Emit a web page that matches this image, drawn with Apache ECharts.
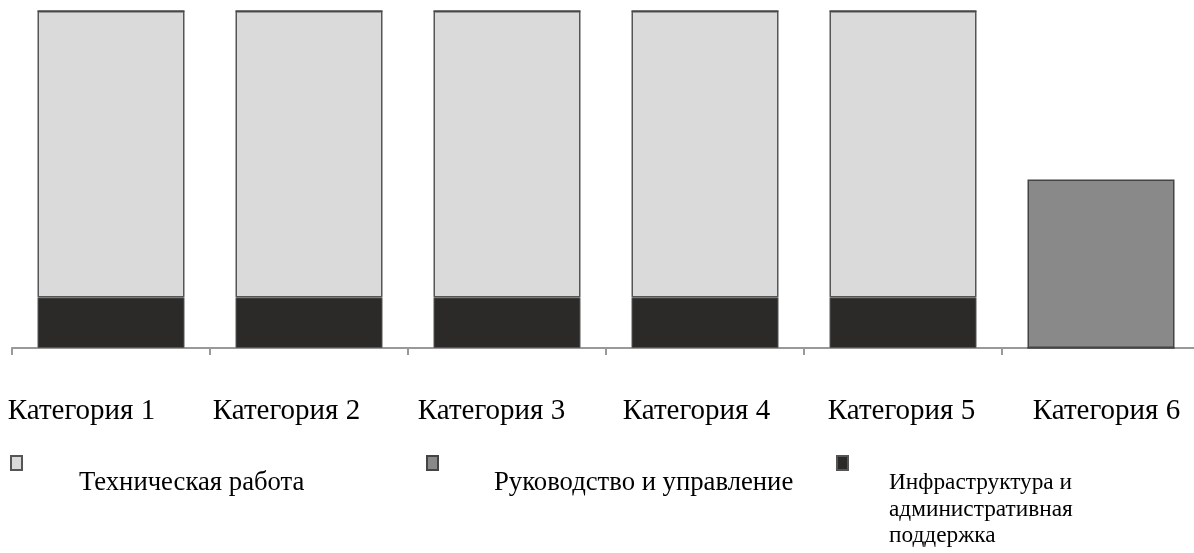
<!DOCTYPE html>
<html>
<head>
<meta charset="utf-8">
<script src="https://cdn.jsdelivr.net/npm/echarts@6/dist/echarts.min.js"></script>
<style>
html,body{margin:0;padding:0;background:#fff;}
#chart{width:1194px;height:553px;}
</style>
</head>
<body>
<div id="chart"></div>
<script>
var categories = ['Категория 1','Категория 2','Категория 3','Категория 4','Категория 5','Категория 6'];
var seriesNames = ['Техническая работа','Руководство и управление','Инфраструктура и административная поддержка'];
var legendLines = [['Техническая работа'],['Руководство и управление'],['Инфраструктура и','административная','поддержка']];
var infraValues = [15, 15, 15, 15, 15, 0];
var techValues = [85, 85, 85, 85, 85, 0];
var mgmtValues = [0, 0, 0, 0, 0, 50];

var font = 'Liberation Serif, Times New Roman, serif';
var chart = echarts.init(document.getElementById('chart'));
function legendItem(idx, left, padLeft, fontSize) {
  var n = legendLines[idx].length;
  var lh = 26.5;
  var spacer = 14 + lh * n;
  var top = 456 - (spacer + lh * n) / 2 + 7;
  return {
    data: [seriesNames[idx]],
    left: left,
    top: top,
    padding: 0,
    orient: 'horizontal',
    itemWidth: 11,
    itemHeight: 14,
    icon: 'rect',
    selectedMode: false,
    formatter: function () {
      return '{s| }\n' + legendLines[idx].map(function (l) { return '{t|' + l + '}'; }).join('\n');
    },
    textStyle: {
      fontFamily: font, fontSize: fontSize, color: '#000',
      padding: [0, 0, 0, padLeft],
      rich: {
        s: {lineHeight: spacer, fontSize: 10, height: spacer},
        t: {lineHeight: lh, fontSize: fontSize, fontFamily: font, color: '#000'}
      }
    }
  };
}
chart.setOption({
  animation: false,
  legend: [
    legendItem(0, 10, 52, 26.7),
    legendItem(1, 426, 51, 26.7),
    legendItem(2, 836, 36, 23.3)
  ],
  grid: [
    {left: 12, top: 11, width: 1188, height: 337, outerBoundsMode: 'none', containLabel: false},
    {left: -21, top: 11, width: 1230, height: 337, outerBoundsMode: 'none', containLabel: false}
  ],
  xAxis: [
    {
      type: 'category', data: categories, gridIndex: 0,
      axisLine: {lineStyle: {color: '#999', width: 2}},
      axisTick: {show: true, length: 7, lineStyle: {color: '#999', width: 2}},
      axisLabel: {show: false}
    },
    {
      type: 'category', data: categories, gridIndex: 1,
      axisLine: {show: false}, axisTick: {show: false},
      axisLabel: {fontFamily: font, fontSize: 29, color: '#000', margin: 49}
    }
  ],
  yAxis: [
    {type: 'value', min: 0, max: 100, gridIndex: 0, show: false},
    {type: 'value', min: 0, max: 100, gridIndex: 1, show: false}
  ],
  series: [
    {name: seriesNames[2], type: 'bar', stack: 's', data: infraValues, barWidth: 147,
      itemStyle: {color: '#2b2a28', borderColor: '#555', borderWidth: 1}},
    {name: seriesNames[0], type: 'bar', stack: 's', data: techValues, barWidth: 147,
      itemStyle: {color: '#d9dad9', borderColor: '#555', borderWidth: 1.5}},
    {name: seriesNames[1], type: 'bar', stack: 's', data: mgmtValues, barWidth: 147,
      itemStyle: {color: '#898989', borderColor: '#444', borderWidth: 1.5}}
  ]
});
</script>
</body>
</html>
